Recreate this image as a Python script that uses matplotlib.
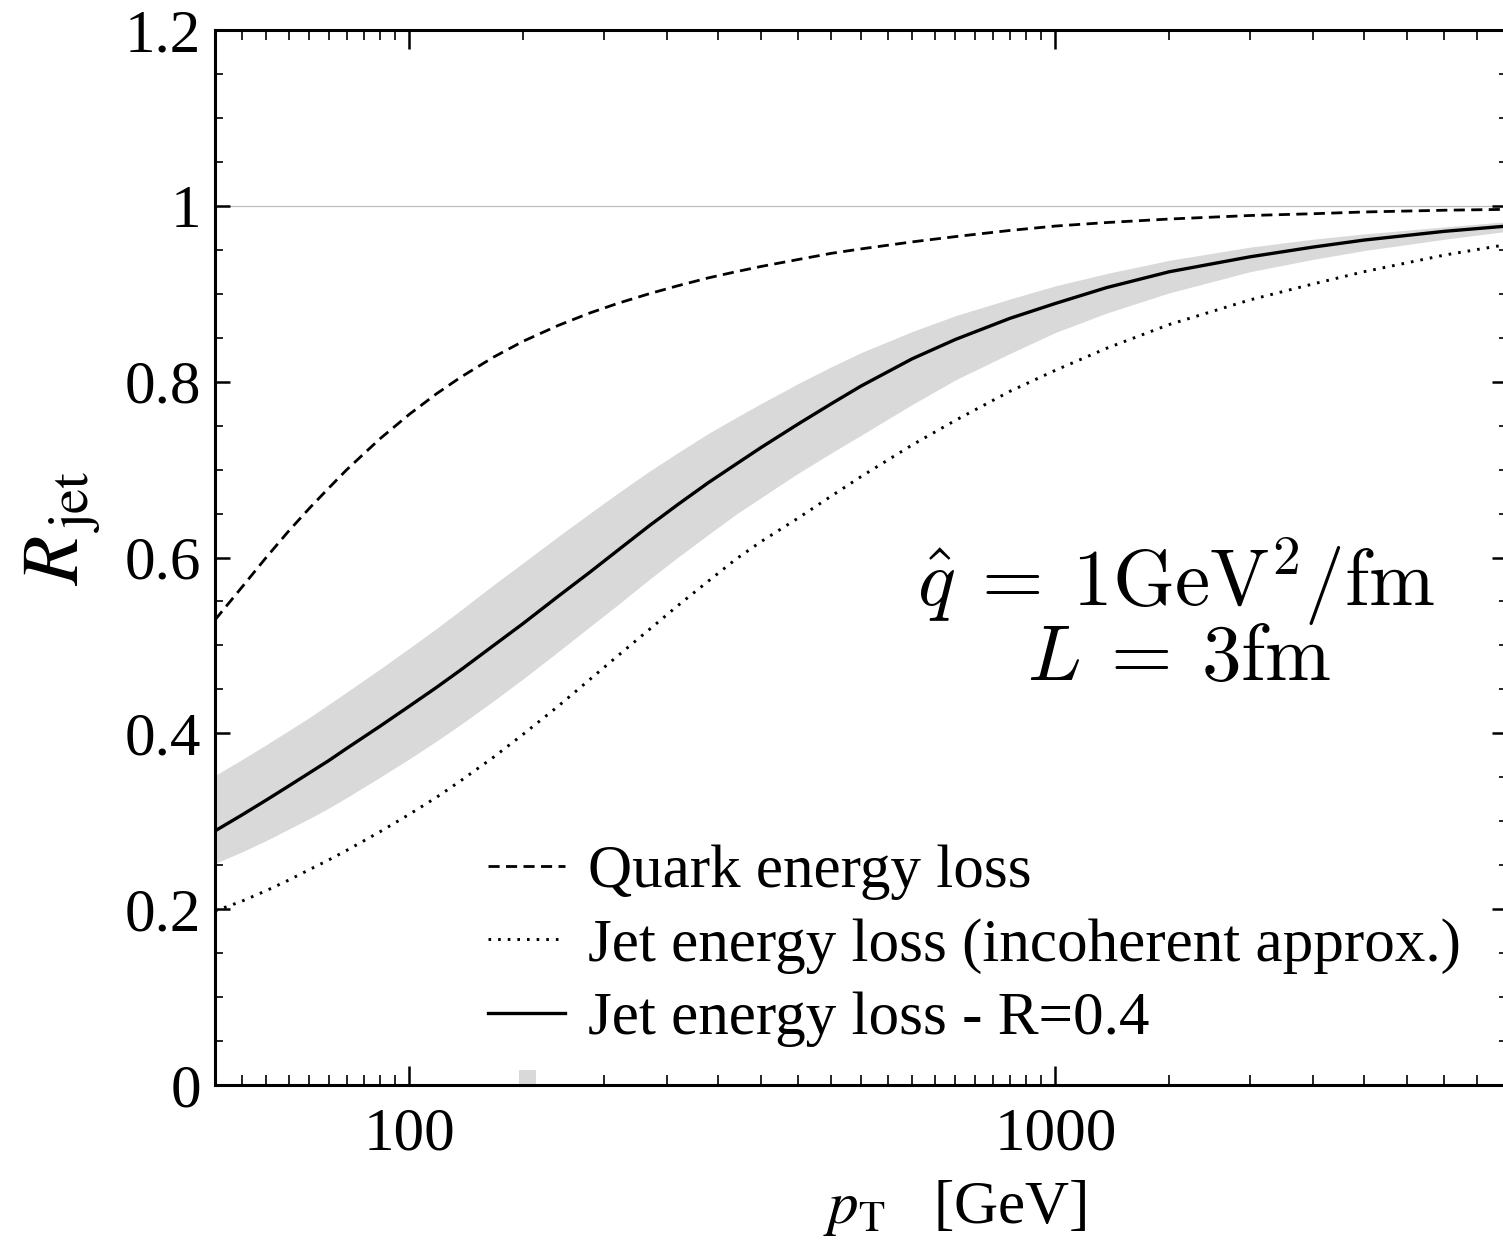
import numpy as np
import matplotlib
matplotlib.use("Agg")
import matplotlib.pyplot as plt
from matplotlib.ticker import LogLocator, FixedLocator, MultipleLocator, NullFormatter

plt.rcParams['font.family'] = ['Liberation Serif', 'DejaVu Serif']
plt.rcParams['mathtext.fontset'] = 'stix'

# pT grid [GeV]
pt = [50, 55, 60, 65, 70, 75, 80, 90, 100, 110, 120, 135, 150, 170, 190, 210, 235, 260,
      290, 320, 350, 400, 450, 500, 600, 700, 850, 1000, 1200, 1500, 2000, 2500, 3000,
      4000, 5000]

# Quark energy loss (dashed)
r_quark = [0.529, 0.566, 0.600, 0.630, 0.656, 0.679, 0.700, 0.735, 0.763, 0.786, 0.805,
           0.828, 0.846, 0.864, 0.878, 0.889, 0.900, 0.909, 0.918, 0.925, 0.931, 0.939,
           0.946, 0.951, 0.959, 0.965, 0.972, 0.977, 0.981, 0.985, 0.989, 0.991, 0.993,
           0.995, 0.996]
# Jet energy loss, incoherent approx. (dotted)
r_incoh = [0.198, 0.209, 0.221, 0.233, 0.245, 0.256, 0.267, 0.288, 0.308, 0.327, 0.346,
           0.373, 0.399, 0.431, 0.461, 0.488, 0.518, 0.545, 0.573, 0.598, 0.618, 0.645,
           0.670, 0.692, 0.728, 0.756, 0.789, 0.813, 0.838, 0.865, 0.893, 0.911, 0.925,
           0.944, 0.956]
# Jet energy loss R=0.4 (solid) and its band
r_jet = [0.289, 0.307, 0.324, 0.340, 0.355, 0.369, 0.383, 0.408, 0.431, 0.452, 0.472,
         0.500, 0.525, 0.556, 0.583, 0.608, 0.636, 0.660, 0.685, 0.706, 0.725, 0.752,
         0.775, 0.795, 0.826, 0.848, 0.872, 0.889, 0.907, 0.925, 0.942, 0.953, 0.961,
         0.971, 0.977]
r_jet_lo = [0.252, 0.265, 0.278, 0.291, 0.303, 0.315, 0.327, 0.350, 0.371, 0.391, 0.410,
            0.437, 0.462, 0.493, 0.521, 0.546, 0.575, 0.600, 0.626, 0.649, 0.668, 0.696,
            0.719, 0.739, 0.774, 0.802, 0.832, 0.856, 0.878, 0.901, 0.925, 0.939, 0.949,
            0.962, 0.971]
r_jet_hi = [0.352, 0.370, 0.387, 0.403, 0.418, 0.433, 0.447, 0.473, 0.497, 0.519, 0.540,
            0.569, 0.594, 0.624, 0.650, 0.673, 0.698, 0.719, 0.741, 0.759, 0.775, 0.798,
            0.817, 0.833, 0.857, 0.875, 0.894, 0.909, 0.923, 0.938, 0.953, 0.962, 0.968,
            0.976, 0.982]

# small grey patch near the x axis
patch_pt = [148, 157]
patch_lo = [0.0, 0.0]
patch_hi = [0.017, 0.017]

legend_labels = ["Quark energy loss",
                 "Jet energy loss (incoherent approx.)",
                 "Jet energy loss - R=0.4"]

GREY = '#d9d9d9'

fig = plt.figure(figsize=(15.03, 12.40), dpi=100)
ax = fig.add_axes([215 / 1503, 1 - 1085 / 1240, (1507 - 215) / 1503, (1085 - 30) / 1240])

ax.axhline(1.0, color='#bdbdbd', lw=0.9, zorder=1)
ax.fill_between(pt, r_jet_lo, r_jet_hi, color=GREY, lw=0, zorder=2)
ax.fill_between(patch_pt, patch_lo, patch_hi, color=GREY, lw=0, zorder=2)

ax.plot(pt, r_quark, color='black', lw=2.0, dashes=(4.0, 2.3), label=legend_labels[0], zorder=3)
ax.plot(pt, r_incoh, color='black', lw=2.1, dashes=(0.9, 2.4), label=legend_labels[1], zorder=3)
ax.plot(pt, r_jet, color='black', lw=2.4, label=legend_labels[2], zorder=4)

ax.set_xscale('log')
ax.set_xlim(50, 5000)
ax.set_ylim(0, 1.2)

ax.xaxis.set_major_locator(FixedLocator([100, 1000]))
ax.set_xticklabels(['100', '1000'])
ax.xaxis.set_minor_locator(LogLocator(base=10, subs=np.arange(1.5, 10, 0.5)))
ax.xaxis.set_minor_formatter(NullFormatter())
ax.yaxis.set_minor_locator(MultipleLocator(0.05))
ax.set_yticks([0, 0.2, 0.4, 0.6, 0.8, 1.0, 1.2])
ax.set_yticklabels(['0', '0.2', '0.4', '0.6', '0.8', '1', '1.2'])

ax.tick_params(which='both', direction='in', top=True, right=True, labelsize=44)
ax.tick_params(axis='x', which='major', length=14, width=1.8, pad=16)
ax.tick_params(axis='x', which='minor', length=7, width=1.2)
ax.tick_params(axis='y', which='major', length=11, width=1.8, pad=10)
ax.tick_params(axis='y', which='minor', length=5.5, width=1.2)
for s in ax.spines.values():
    s.set_linewidth(2.2)

ax.set_xlabel(r'$p_{\mathrm{T}}$   [GeV]', fontsize=44)
ax.xaxis.set_label_coords(0.573, -0.088)
ax.set_ylabel(r'$R_{\,\mathrm{jet}}$', fontsize=58)
ax.yaxis.set_label_coords(-0.087, 0.528)

ax.text(0.744, 0.454, r'$\hat{q}\:=\:1\mathrm{GeV}^2/\mathrm{fm}$', transform=ax.transAxes,
        fontsize=57, math_fontfamily='cm', ha='center', va='baseline')
ax.text(0.746, 0.384, r'$L\:=\:3\mathrm{fm}$', transform=ax.transAxes,
        fontsize=57, math_fontfamily='cm', ha='center', va='baseline')

ax.legend(loc='lower left', bbox_to_anchor=(0.211, 0.036), frameon=False, fontsize=44,
          handlelength=1.26, handletextpad=0.38, labelspacing=0.29, borderpad=0,
          borderaxespad=0)

fig.savefig('out.png', dpi=100)
